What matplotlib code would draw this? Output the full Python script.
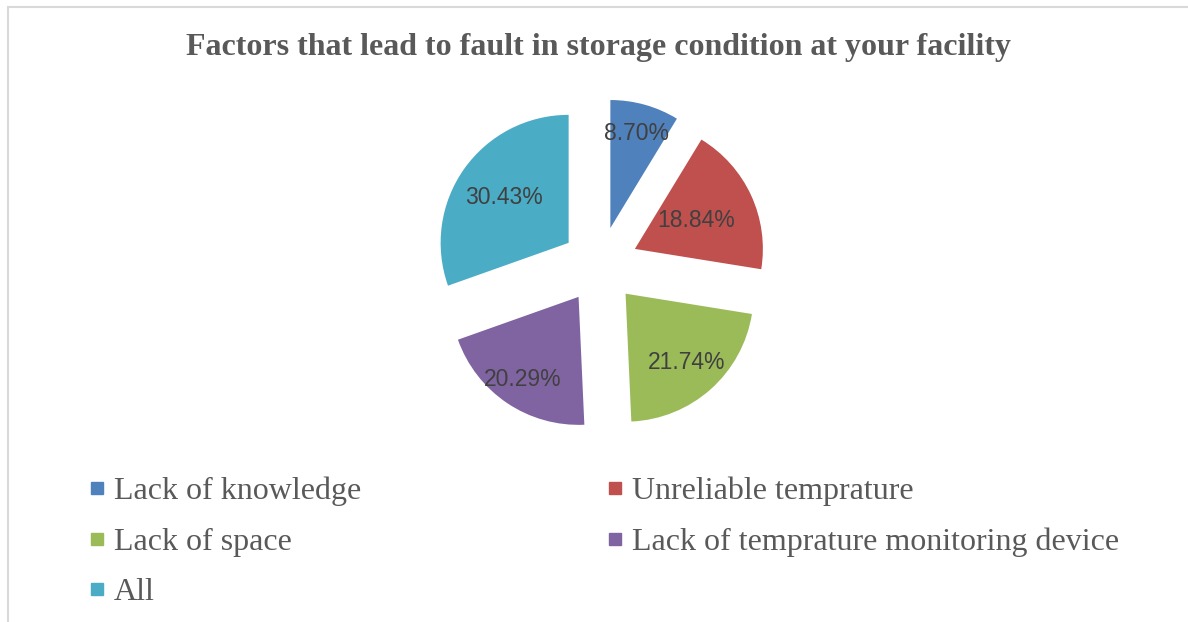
import matplotlib
matplotlib.use("Agg")
import numpy as np
import matplotlib.pyplot as plt
from matplotlib.lines import Line2D
from matplotlib.patches import Rectangle

# data
factors = ['Lack of knowledge', 'Unreliable temprature', 'Lack of space',
           'Lack of temprature monitoring device', 'All']
shares = [8.70, 18.84, 21.74, 20.29, 30.43]
colors = ['#4F81BD', '#C0504D', '#9BBB59', '#8064A2', '#4BACC6']

W, H = 1188, 622
fig = plt.figure(figsize=(W / 100, H / 100), dpi=100)

# chart border (only top and left visible in the crop)
fig.add_artist(Rectangle((8 / W, -0.1), 1.2, (H - 7) / H + 0.1,
                         transform=fig.transFigure, fill=False,
                         ec='#d9d9d9', lw=1.5))

fig.text(598 / W, 1 - 47 / H,
         'Factors that lead to fault in storage condition at your facility',
         ha='center', va='center', fontsize=23, fontweight='bold',
         family='Liberation Serif', color='#595959')

# pie axes: centre at (600, 265) px, 1 unit = 128 px
cx, cy, R = 600, 265, 128
half = 200
ax = fig.add_axes([(cx - half) / W, (H - cy - half) / H, 2 * half / W, 2 * half / H])
wedges, texts, autotexts = ax.pie(
    shares, colors=colors, startangle=90, counterclock=False,
    explode=[0.3] * len(shares), autopct='%.2f%%',
    textprops=dict(family='Liberation Sans', fontsize=16.5, color='#404040'))
ax.set_xlim(-half / R, half / R)
ax.set_ylim(-half / R, half / R)

# label placement (Excel best-fit style): distance from wedge tip, in radii
label_dist = [0.77, 0.53, 0.72, 0.78, 0.62]
for w, t, d in zip(wedges, autotexts, label_dist):
    ang = np.deg2rad((w.theta1 + w.theta2) / 2)
    x0, y0 = w.center
    t.set_position((x0 + d * np.cos(ang), y0 + d * np.sin(ang)))

# legend, row order as in the original
handles = [Line2D([], [], ls='none', marker='s', markersize=8.5,
                  markerfacecolor=c, markeredgecolor=c) for c in colors]
order = [0, 2, 4, 1, 3]
fig.legend([handles[i] for i in order], [factors[i] for i in order],
           ncol=2, loc='upper left', bbox_to_anchor=(60 / W, 1 - 448 / H),
           frameon=False, prop=dict(family='Liberation Serif', size=23),
           labelcolor='#595959', handlelength=0.5, handletextpad=0.28,
           columnspacing=7.7, labelspacing=0.66)

fig.savefig('out.png', dpi=100)
